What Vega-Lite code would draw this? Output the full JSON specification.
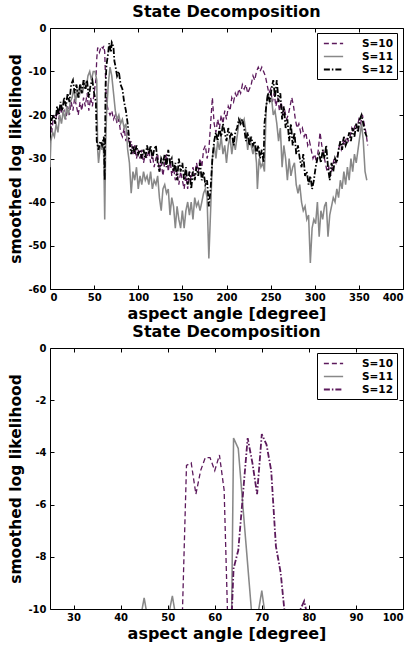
{
  "$schema": "https://vega.github.io/schema/vega-lite/v6.json",
  "autosize": {"type": "pad"},
  "padding": {"left": 8, "top": 3, "right": 0, "bottom": 0},
  "spacing": 59,
  "bounds": "flush",
  "config": {
    "view": {"stroke": "#000", "strokeWidth": 1},
    "axis": {"grid": false, "domain": false, "tickColor": "#000", "tickSize": -4, "labelFont": "DejaVu Sans", "labelFontWeight": "bold", "labelFontSize": 10, "labelColor": "#000", "titleFont": "DejaVu Sans", "titleFontWeight": "bold", "titleFontSize": 16, "titleColor": "#000"},
    "title": {"font": "DejaVu Sans", "fontWeight": "bold", "fontSize": 16, "color": "#000", "offset": 3},
    "legend": {"strokeColor": "#000", "fillColor": "#fff", "padding": 4, "labelFont": "DejaVu Sans", "labelFontWeight": "bold", "labelFontSize": 10.5, "labelColor": "#000", "symbolType": "M-1.75,0H1.75", "symbolSize": 121, "symbolStrokeWidth": 1.3, "symbolOffset": 6, "rowPadding": 1, "labelOffset": 22, "cornerRadius": 0, "labelExpr": "datum.label + '   '"}
  },
  "datasets": {
    "top": [
      {"a":0,"v":-22,"s":"S=10"},{"a":2,"v":-24,"s":"S=10"},{"a":4,"v":-20,"s":"S=10"},{"a":6,"v":-22,"s":"S=10"},{"a":8,"v":-19,"s":"S=10"},{"a":10,"v":-21,"s":"S=10"},{"a":12,"v":-18,"s":"S=10"},{"a":14,"v":-20,"s":"S=10"},{"a":16,"v":-19,"s":"S=10"},{"a":18,"v":-21,"s":"S=10"},{"a":20,"v":-18,"s":"S=10"},{"a":22,"v":-20,"s":"S=10"},{"a":24,"v":-17,"s":"S=10"},{"a":26,"v":-19,"s":"S=10"},{"a":28,"v":-16,"s":"S=10"},{"a":30,"v":-18,"s":"S=10"},{"a":32,"v":-20,"s":"S=10"},{"a":34,"v":-17,"s":"S=10"},{"a":36,"v":-19,"s":"S=10"},{"a":38,"v":-16,"s":"S=10"},{"a":40,"v":-18,"s":"S=10"},{"a":42,"v":-15,"s":"S=10"},{"a":44,"v":-19,"s":"S=10"},{"a":46,"v":-16,"s":"S=10"},{"a":48,"v":-18,"s":"S=10"},{"a":50,"v":-15,"s":"S=10"},{"a":52,"v":-12,"s":"S=10"},{"a":53,"v":-7,"s":"S=10"},{"a":54,"v":-4.5,"s":"S=10"},{"a":56,"v":-5.6,"s":"S=10"},{"a":58,"v":-4.2,"s":"S=10"},{"a":60,"v":-4.7,"s":"S=10"},{"a":61,"v":-4.1,"s":"S=10"},{"a":62,"v":-5.5,"s":"S=10"},{"a":63,"v":-12,"s":"S=10"},{"a":64,"v":-17,"s":"S=10"},{"a":66,"v":-19,"s":"S=10"},{"a":68,"v":-20,"s":"S=10"},{"a":70,"v":-19,"s":"S=10"},{"a":72,"v":-21,"s":"S=10"},{"a":74,"v":-20,"s":"S=10"},{"a":76,"v":-22,"s":"S=10"},{"a":78,"v":-21,"s":"S=10"},{"a":80,"v":-24,"s":"S=10"},{"a":82,"v":-25,"s":"S=10"},{"a":84,"v":-23,"s":"S=10"},{"a":86,"v":-26,"s":"S=10"},{"a":88,"v":-24,"s":"S=10"},{"a":90,"v":-27,"s":"S=10"},{"a":92,"v":-26,"s":"S=10"},{"a":94,"v":-29,"s":"S=10"},{"a":96,"v":-27,"s":"S=10"},{"a":98,"v":-30,"s":"S=10"},{"a":100,"v":-28,"s":"S=10"},{"a":102,"v":-30,"s":"S=10"},{"a":104,"v":-28,"s":"S=10"},{"a":106,"v":-31,"s":"S=10"},{"a":108,"v":-29,"s":"S=10"},{"a":110,"v":-30,"s":"S=10"},{"a":112,"v":-28,"s":"S=10"},{"a":114,"v":-31,"s":"S=10"},{"a":116,"v":-29,"s":"S=10"},{"a":118,"v":-32,"s":"S=10"},{"a":120,"v":-30,"s":"S=10"},{"a":122,"v":-29,"s":"S=10"},{"a":124,"v":-33,"s":"S=10"},{"a":126,"v":-31,"s":"S=10"},{"a":128,"v":-34,"s":"S=10"},{"a":130,"v":-31,"s":"S=10"},{"a":132,"v":-29,"s":"S=10"},{"a":134,"v":-33,"s":"S=10"},{"a":136,"v":-30,"s":"S=10"},{"a":138,"v":-34,"s":"S=10"},{"a":140,"v":-32,"s":"S=10"},{"a":142,"v":-35,"s":"S=10"},{"a":144,"v":-33,"s":"S=10"},{"a":146,"v":-36,"s":"S=10"},{"a":148,"v":-33,"s":"S=10"},{"a":150,"v":-35,"s":"S=10"},{"a":152,"v":-37,"s":"S=10"},{"a":154,"v":-34,"s":"S=10"},{"a":156,"v":-37,"s":"S=10"},{"a":158,"v":-33,"s":"S=10"},{"a":160,"v":-35,"s":"S=10"},{"a":162,"v":-32,"s":"S=10"},{"a":164,"v":-34,"s":"S=10"},{"a":166,"v":-31,"s":"S=10"},{"a":168,"v":-33,"s":"S=10"},{"a":170,"v":-30,"s":"S=10"},{"a":172,"v":-32,"s":"S=10"},{"a":174,"v":-28,"s":"S=10"},{"a":176,"v":-27,"s":"S=10"},{"a":178,"v":-30,"s":"S=10"},{"a":180,"v":-28,"s":"S=10"},{"a":182,"v":-22,"s":"S=10"},{"a":184,"v":-16,"s":"S=10"},{"a":186,"v":-22,"s":"S=10"},{"a":188,"v":-24,"s":"S=10"},{"a":190,"v":-21,"s":"S=10"},{"a":192,"v":-23,"s":"S=10"},{"a":194,"v":-20,"s":"S=10"},{"a":196,"v":-22,"s":"S=10"},{"a":198,"v":-19,"s":"S=10"},{"a":200,"v":-21,"s":"S=10"},{"a":202,"v":-18,"s":"S=10"},{"a":204,"v":-19,"s":"S=10"},{"a":206,"v":-16,"s":"S=10"},{"a":208,"v":-17,"s":"S=10"},{"a":210,"v":-15,"s":"S=10"},{"a":212,"v":-16,"s":"S=10"},{"a":214,"v":-14,"s":"S=10"},{"a":216,"v":-15,"s":"S=10"},{"a":218,"v":-13,"s":"S=10"},{"a":220,"v":-14,"s":"S=10"},{"a":222,"v":-13,"s":"S=10"},{"a":224,"v":-15,"s":"S=10"},{"a":226,"v":-14,"s":"S=10"},{"a":228,"v":-13,"s":"S=10"},{"a":230,"v":-11,"s":"S=10"},{"a":232,"v":-12,"s":"S=10"},{"a":234,"v":-10,"s":"S=10"},{"a":236,"v":-9,"s":"S=10"},{"a":238,"v":-10,"s":"S=10"},{"a":240,"v":-9,"s":"S=10"},{"a":242,"v":-10,"s":"S=10"},{"a":244,"v":-11,"s":"S=10"},{"a":246,"v":-13,"s":"S=10"},{"a":248,"v":-15,"s":"S=10"},{"a":250,"v":-14,"s":"S=10"},{"a":252,"v":-17,"s":"S=10"},{"a":254,"v":-15,"s":"S=10"},{"a":256,"v":-18,"s":"S=10"},{"a":258,"v":-16,"s":"S=10"},{"a":260,"v":-19,"s":"S=10"},{"a":262,"v":-17,"s":"S=10"},{"a":264,"v":-20,"s":"S=10"},{"a":266,"v":-19,"s":"S=10"},{"a":268,"v":-21,"s":"S=10"},{"a":270,"v":-20,"s":"S=10"},{"a":272,"v":-18,"s":"S=10"},{"a":274,"v":-16,"s":"S=10"},{"a":276,"v":-18,"s":"S=10"},{"a":278,"v":-21,"s":"S=10"},{"a":280,"v":-23,"s":"S=10"},{"a":282,"v":-22,"s":"S=10"},{"a":284,"v":-24,"s":"S=10"},{"a":286,"v":-23,"s":"S=10"},{"a":288,"v":-25,"s":"S=10"},{"a":290,"v":-24,"s":"S=10"},{"a":292,"v":-27,"s":"S=10"},{"a":294,"v":-26,"s":"S=10"},{"a":296,"v":-28,"s":"S=10"},{"a":298,"v":-30,"s":"S=10"},{"a":300,"v":-29,"s":"S=10"},{"a":302,"v":-31,"s":"S=10"},{"a":304,"v":-28,"s":"S=10"},{"a":306,"v":-24,"s":"S=10"},{"a":308,"v":-27,"s":"S=10"},{"a":310,"v":-29,"s":"S=10"},{"a":312,"v":-31,"s":"S=10"},{"a":314,"v":-33,"s":"S=10"},{"a":316,"v":-32,"s":"S=10"},{"a":318,"v":-34,"s":"S=10"},{"a":320,"v":-32,"s":"S=10"},{"a":322,"v":-30,"s":"S=10"},{"a":324,"v":-31,"s":"S=10"},{"a":326,"v":-29,"s":"S=10"},{"a":328,"v":-27,"s":"S=10"},{"a":330,"v":-28,"s":"S=10"},{"a":332,"v":-26,"s":"S=10"},{"a":334,"v":-27,"s":"S=10"},{"a":336,"v":-25,"s":"S=10"},{"a":338,"v":-26,"s":"S=10"},{"a":340,"v":-25,"s":"S=10"},{"a":342,"v":-23,"s":"S=10"},{"a":344,"v":-24,"s":"S=10"},{"a":346,"v":-22,"s":"S=10"},{"a":348,"v":-23,"s":"S=10"},{"a":350,"v":-21,"s":"S=10"},{"a":352,"v":-22,"s":"S=10"},{"a":354,"v":-20,"s":"S=10"},{"a":356,"v":-22,"s":"S=10"},{"a":358,"v":-24,"s":"S=10"},{"a":360,"v":-27,"s":"S=10"},

      {"a":0,"v":-32,"s":"S=11"},{"a":1,"v":-26,"s":"S=11"},{"a":3,"v":-24,"s":"S=11"},{"a":5,"v":-25,"s":"S=11"},{"a":7,"v":-22,"s":"S=11"},{"a":9,"v":-24,"s":"S=11"},{"a":11,"v":-20,"s":"S=11"},{"a":13,"v":-22,"s":"S=11"},{"a":15,"v":-19,"s":"S=11"},{"a":17,"v":-21,"s":"S=11"},{"a":19,"v":-18,"s":"S=11"},{"a":21,"v":-20,"s":"S=11"},{"a":23,"v":-17,"s":"S=11"},{"a":25,"v":-16,"s":"S=11"},{"a":27,"v":-14,"s":"S=11"},{"a":29,"v":-17,"s":"S=11"},{"a":31,"v":-14,"s":"S=11"},{"a":33,"v":-16,"s":"S=11"},{"a":35,"v":-13,"s":"S=11"},{"a":37,"v":-15,"s":"S=11"},{"a":39,"v":-12,"s":"S=11"},{"a":41,"v":-14,"s":"S=11"},{"a":43,"v":-11,"s":"S=11"},{"a":45,"v":-10,"s":"S=11"},{"a":47,"v":-12,"s":"S=11"},{"a":49,"v":-10,"s":"S=11"},{"a":51,"v":-10,"s":"S=11"},{"a":53,"v":-12,"s":"S=11"},{"a":54,"v":-28,"s":"S=11"},{"a":55,"v":-31,"s":"S=11"},{"a":57,"v":-27,"s":"S=11"},{"a":59,"v":-28,"s":"S=11"},{"a":60,"v":-26,"s":"S=11"},{"a":61,"v":-30,"s":"S=11"},{"a":62,"v":-44,"s":"S=11"},{"a":63,"v":-28,"s":"S=11"},{"a":64,"v":-20,"s":"S=11"},{"a":66,"v":-13,"s":"S=11"},{"a":68,"v":-9,"s":"S=11"},{"a":70,"v":-11,"s":"S=11"},{"a":72,"v":-15,"s":"S=11"},{"a":74,"v":-19,"s":"S=11"},{"a":76,"v":-21,"s":"S=11"},{"a":78,"v":-20,"s":"S=11"},{"a":80,"v":-22,"s":"S=11"},{"a":82,"v":-21,"s":"S=11"},{"a":84,"v":-23,"s":"S=11"},{"a":86,"v":-22,"s":"S=11"},{"a":88,"v":-28,"s":"S=11"},{"a":90,"v":-31,"s":"S=11"},{"a":92,"v":-38,"s":"S=11"},{"a":94,"v":-33,"s":"S=11"},{"a":96,"v":-35,"s":"S=11"},{"a":98,"v":-32,"s":"S=11"},{"a":100,"v":-37,"s":"S=11"},{"a":102,"v":-34,"s":"S=11"},{"a":104,"v":-36,"s":"S=11"},{"a":106,"v":-33,"s":"S=11"},{"a":108,"v":-35,"s":"S=11"},{"a":110,"v":-34,"s":"S=11"},{"a":112,"v":-36,"s":"S=11"},{"a":114,"v":-33,"s":"S=11"},{"a":116,"v":-37,"s":"S=11"},{"a":118,"v":-35,"s":"S=11"},{"a":120,"v":-36,"s":"S=11"},{"a":122,"v":-34,"s":"S=11"},{"a":124,"v":-39,"s":"S=11"},{"a":126,"v":-42,"s":"S=11"},{"a":128,"v":-37,"s":"S=11"},{"a":130,"v":-36,"s":"S=11"},{"a":132,"v":-38,"s":"S=11"},{"a":134,"v":-37,"s":"S=11"},{"a":136,"v":-43,"s":"S=11"},{"a":138,"v":-39,"s":"S=11"},{"a":140,"v":-41,"s":"S=11"},{"a":142,"v":-46,"s":"S=11"},{"a":144,"v":-41,"s":"S=11"},{"a":146,"v":-44,"s":"S=11"},{"a":148,"v":-46,"s":"S=11"},{"a":150,"v":-42,"s":"S=11"},{"a":152,"v":-46,"s":"S=11"},{"a":154,"v":-42,"s":"S=11"},{"a":156,"v":-40,"s":"S=11"},{"a":158,"v":-43,"s":"S=11"},{"a":160,"v":-40,"s":"S=11"},{"a":162,"v":-44,"s":"S=11"},{"a":164,"v":-39,"s":"S=11"},{"a":166,"v":-41,"s":"S=11"},{"a":168,"v":-40,"s":"S=11"},{"a":170,"v":-42,"s":"S=11"},{"a":172,"v":-40,"s":"S=11"},{"a":174,"v":-38,"s":"S=11"},{"a":176,"v":-37,"s":"S=11"},{"a":178,"v":-39,"s":"S=11"},{"a":180,"v":-53,"s":"S=11"},{"a":182,"v":-42,"s":"S=11"},{"a":184,"v":-30,"s":"S=11"},{"a":186,"v":-27,"s":"S=11"},{"a":188,"v":-30,"s":"S=11"},{"a":190,"v":-26,"s":"S=11"},{"a":192,"v":-28,"s":"S=11"},{"a":194,"v":-25,"s":"S=11"},{"a":196,"v":-29,"s":"S=11"},{"a":198,"v":-27,"s":"S=11"},{"a":200,"v":-31,"s":"S=11"},{"a":202,"v":-27,"s":"S=11"},{"a":204,"v":-25,"s":"S=11"},{"a":206,"v":-29,"s":"S=11"},{"a":208,"v":-26,"s":"S=11"},{"a":210,"v":-28,"s":"S=11"},{"a":212,"v":-25,"s":"S=11"},{"a":214,"v":-22,"s":"S=11"},{"a":216,"v":-21,"s":"S=11"},{"a":218,"v":-22,"s":"S=11"},{"a":220,"v":-21,"s":"S=11"},{"a":222,"v":-24,"s":"S=11"},{"a":224,"v":-28,"s":"S=11"},{"a":226,"v":-25,"s":"S=11"},{"a":228,"v":-27,"s":"S=11"},{"a":230,"v":-29,"s":"S=11"},{"a":232,"v":-27,"s":"S=11"},{"a":234,"v":-31,"s":"S=11"},{"a":235,"v":-37,"s":"S=11"},{"a":237,"v":-30,"s":"S=11"},{"a":239,"v":-32,"s":"S=11"},{"a":241,"v":-31,"s":"S=11"},{"a":243,"v":-33,"s":"S=11"},{"a":245,"v":-18,"s":"S=11"},{"a":247,"v":-15,"s":"S=11"},{"a":249,"v":-17,"s":"S=11"},{"a":251,"v":-16,"s":"S=11"},{"a":253,"v":-20,"s":"S=11"},{"a":255,"v":-19,"s":"S=11"},{"a":257,"v":-22,"s":"S=11"},{"a":259,"v":-26,"s":"S=11"},{"a":261,"v":-23,"s":"S=11"},{"a":263,"v":-32,"s":"S=11"},{"a":265,"v":-27,"s":"S=11"},{"a":267,"v":-30,"s":"S=11"},{"a":269,"v":-35,"s":"S=11"},{"a":271,"v":-30,"s":"S=11"},{"a":273,"v":-34,"s":"S=11"},{"a":275,"v":-32,"s":"S=11"},{"a":277,"v":-31,"s":"S=11"},{"a":279,"v":-36,"s":"S=11"},{"a":281,"v":-38,"s":"S=11"},{"a":283,"v":-36,"s":"S=11"},{"a":285,"v":-40,"s":"S=11"},{"a":287,"v":-42,"s":"S=11"},{"a":289,"v":-41,"s":"S=11"},{"a":291,"v":-44,"s":"S=11"},{"a":293,"v":-43,"s":"S=11"},{"a":295,"v":-54,"s":"S=11"},{"a":297,"v":-46,"s":"S=11"},{"a":299,"v":-44,"s":"S=11"},{"a":301,"v":-45,"s":"S=11"},{"a":303,"v":-40,"s":"S=11"},{"a":305,"v":-48,"s":"S=11"},{"a":307,"v":-42,"s":"S=11"},{"a":309,"v":-44,"s":"S=11"},{"a":311,"v":-41,"s":"S=11"},{"a":313,"v":-40,"s":"S=11"},{"a":315,"v":-48,"s":"S=11"},{"a":317,"v":-43,"s":"S=11"},{"a":319,"v":-41,"s":"S=11"},{"a":321,"v":-39,"s":"S=11"},{"a":323,"v":-40,"s":"S=11"},{"a":325,"v":-37,"s":"S=11"},{"a":327,"v":-39,"s":"S=11"},{"a":329,"v":-35,"s":"S=11"},{"a":331,"v":-37,"s":"S=11"},{"a":333,"v":-33,"s":"S=11"},{"a":335,"v":-36,"s":"S=11"},{"a":337,"v":-32,"s":"S=11"},{"a":339,"v":-35,"s":"S=11"},{"a":341,"v":-30,"s":"S=11"},{"a":343,"v":-33,"s":"S=11"},{"a":345,"v":-29,"s":"S=11"},{"a":347,"v":-31,"s":"S=11"},{"a":349,"v":-28,"s":"S=11"},{"a":351,"v":-25,"s":"S=11"},{"a":353,"v":-22,"s":"S=11"},{"a":355,"v":-26,"s":"S=11"},{"a":357,"v":-33,"s":"S=11"},{"a":359,"v":-35,"s":"S=11"},

      {"a":0,"v":-24,"s":"S=12"},{"a":2,"v":-21,"s":"S=12"},{"a":4,"v":-20,"s":"S=12"},{"a":6,"v":-22,"s":"S=12"},{"a":8,"v":-18,"s":"S=12"},{"a":10,"v":-20,"s":"S=12"},{"a":12,"v":-17,"s":"S=12"},{"a":14,"v":-19,"s":"S=12"},{"a":16,"v":-16,"s":"S=12"},{"a":18,"v":-18,"s":"S=12"},{"a":20,"v":-15,"s":"S=12"},{"a":22,"v":-17,"s":"S=12"},{"a":24,"v":-13,"s":"S=12"},{"a":26,"v":-12,"s":"S=12"},{"a":28,"v":-15,"s":"S=12"},{"a":30,"v":-13,"s":"S=12"},{"a":32,"v":-16,"s":"S=12"},{"a":34,"v":-13,"s":"S=12"},{"a":36,"v":-15,"s":"S=12"},{"a":38,"v":-12,"s":"S=12"},{"a":40,"v":-14,"s":"S=12"},{"a":42,"v":-12,"s":"S=12"},{"a":44,"v":-16,"s":"S=12"},{"a":46,"v":-13,"s":"S=12"},{"a":48,"v":-12,"s":"S=12"},{"a":50,"v":-15,"s":"S=12"},{"a":52,"v":-17,"s":"S=12"},{"a":53,"v":-26,"s":"S=12"},{"a":55,"v":-28,"s":"S=12"},{"a":57,"v":-26,"s":"S=12"},{"a":59,"v":-27,"s":"S=12"},{"a":61,"v":-25,"s":"S=12"},{"a":62,"v":-35,"s":"S=12"},{"a":63,"v":-13,"s":"S=12"},{"a":64,"v":-8.5,"s":"S=12"},{"a":66,"v":-5.6,"s":"S=12"},{"a":67,"v":-3.5,"s":"S=12"},{"a":68,"v":-4.4,"s":"S=12"},{"a":69,"v":-5.6,"s":"S=12"},{"a":70,"v":-3.3,"s":"S=12"},{"a":71,"v":-3.7,"s":"S=12"},{"a":72,"v":-4.7,"s":"S=12"},{"a":73,"v":-7.6,"s":"S=12"},{"a":74,"v":-8.6,"s":"S=12"},{"a":76,"v":-11,"s":"S=12"},{"a":78,"v":-10,"s":"S=12"},{"a":80,"v":-13,"s":"S=12"},{"a":82,"v":-14,"s":"S=12"},{"a":84,"v":-17,"s":"S=12"},{"a":86,"v":-19,"s":"S=12"},{"a":88,"v":-22,"s":"S=12"},{"a":90,"v":-26,"s":"S=12"},{"a":92,"v":-29,"s":"S=12"},{"a":94,"v":-27,"s":"S=12"},{"a":96,"v":-29,"s":"S=12"},{"a":98,"v":-27,"s":"S=12"},{"a":100,"v":-29,"s":"S=12"},{"a":102,"v":-28,"s":"S=12"},{"a":104,"v":-30,"s":"S=12"},{"a":106,"v":-28,"s":"S=12"},{"a":108,"v":-30,"s":"S=12"},{"a":110,"v":-27,"s":"S=12"},{"a":112,"v":-29,"s":"S=12"},{"a":114,"v":-27,"s":"S=12"},{"a":116,"v":-30,"s":"S=12"},{"a":118,"v":-28,"s":"S=12"},{"a":120,"v":-27,"s":"S=12"},{"a":122,"v":-31,"s":"S=12"},{"a":124,"v":-33,"s":"S=12"},{"a":126,"v":-30,"s":"S=12"},{"a":128,"v":-31,"s":"S=12"},{"a":130,"v":-29,"s":"S=12"},{"a":132,"v":-32,"s":"S=12"},{"a":134,"v":-28,"s":"S=12"},{"a":136,"v":-31,"s":"S=12"},{"a":138,"v":-30,"s":"S=12"},{"a":140,"v":-33,"s":"S=12"},{"a":142,"v":-31,"s":"S=12"},{"a":144,"v":-35,"s":"S=12"},{"a":146,"v":-30,"s":"S=12"},{"a":148,"v":-33,"s":"S=12"},{"a":150,"v":-31,"s":"S=12"},{"a":152,"v":-35,"s":"S=12"},{"a":154,"v":-32,"s":"S=12"},{"a":156,"v":-36,"s":"S=12"},{"a":158,"v":-33,"s":"S=12"},{"a":160,"v":-37,"s":"S=12"},{"a":162,"v":-33,"s":"S=12"},{"a":164,"v":-35,"s":"S=12"},{"a":166,"v":-32,"s":"S=12"},{"a":168,"v":-34,"s":"S=12"},{"a":170,"v":-31,"s":"S=12"},{"a":172,"v":-35,"s":"S=12"},{"a":174,"v":-33,"s":"S=12"},{"a":176,"v":-36,"s":"S=12"},{"a":178,"v":-35,"s":"S=12"},{"a":180,"v":-41,"s":"S=12"},{"a":182,"v":-37,"s":"S=12"},{"a":184,"v":-30,"s":"S=12"},{"a":186,"v":-26,"s":"S=12"},{"a":188,"v":-24,"s":"S=12"},{"a":190,"v":-26,"s":"S=12"},{"a":192,"v":-23,"s":"S=12"},{"a":194,"v":-25,"s":"S=12"},{"a":196,"v":-22,"s":"S=12"},{"a":198,"v":-24,"s":"S=12"},{"a":200,"v":-26,"s":"S=12"},{"a":202,"v":-23,"s":"S=12"},{"a":204,"v":-25,"s":"S=12"},{"a":206,"v":-24,"s":"S=12"},{"a":208,"v":-27,"s":"S=12"},{"a":210,"v":-24,"s":"S=12"},{"a":212,"v":-23,"s":"S=12"},{"a":214,"v":-21,"s":"S=12"},{"a":216,"v":-22,"s":"S=12"},{"a":218,"v":-21,"s":"S=12"},{"a":220,"v":-23,"s":"S=12"},{"a":222,"v":-26,"s":"S=12"},{"a":224,"v":-24,"s":"S=12"},{"a":226,"v":-27,"s":"S=12"},{"a":228,"v":-25,"s":"S=12"},{"a":230,"v":-27,"s":"S=12"},{"a":232,"v":-26,"s":"S=12"},{"a":234,"v":-29,"s":"S=12"},{"a":236,"v":-27,"s":"S=12"},{"a":238,"v":-30,"s":"S=12"},{"a":240,"v":-28,"s":"S=12"},{"a":242,"v":-31,"s":"S=12"},{"a":243,"v":-22,"s":"S=12"},{"a":245,"v":-18,"s":"S=12"},{"a":247,"v":-15,"s":"S=12"},{"a":249,"v":-17,"s":"S=12"},{"a":251,"v":-14,"s":"S=12"},{"a":253,"v":-12,"s":"S=12"},{"a":255,"v":-16,"s":"S=12"},{"a":257,"v":-12,"s":"S=12"},{"a":259,"v":-17,"s":"S=12"},{"a":261,"v":-15,"s":"S=12"},{"a":263,"v":-21,"s":"S=12"},{"a":265,"v":-18,"s":"S=12"},{"a":267,"v":-23,"s":"S=12"},{"a":269,"v":-21,"s":"S=12"},{"a":271,"v":-26,"s":"S=12"},{"a":273,"v":-22,"s":"S=12"},{"a":275,"v":-27,"s":"S=12"},{"a":277,"v":-24,"s":"S=12"},{"a":279,"v":-29,"s":"S=12"},{"a":281,"v":-27,"s":"S=12"},{"a":283,"v":-30,"s":"S=12"},{"a":285,"v":-32,"s":"S=12"},{"a":287,"v":-29,"s":"S=12"},{"a":289,"v":-34,"s":"S=12"},{"a":291,"v":-33,"s":"S=12"},{"a":293,"v":-36,"s":"S=12"},{"a":295,"v":-34,"s":"S=12"},{"a":297,"v":-37,"s":"S=12"},{"a":299,"v":-35,"s":"S=12"},{"a":301,"v":-32,"s":"S=12"},{"a":303,"v":-30,"s":"S=12"},{"a":305,"v":-29,"s":"S=12"},{"a":307,"v":-31,"s":"S=12"},{"a":309,"v":-28,"s":"S=12"},{"a":311,"v":-30,"s":"S=12"},{"a":313,"v":-27,"s":"S=12"},{"a":315,"v":-32,"s":"S=12"},{"a":317,"v":-35,"s":"S=12"},{"a":319,"v":-31,"s":"S=12"},{"a":321,"v":-33,"s":"S=12"},{"a":323,"v":-30,"s":"S=12"},{"a":325,"v":-31,"s":"S=12"},{"a":327,"v":-28,"s":"S=12"},{"a":329,"v":-26,"s":"S=12"},{"a":331,"v":-28,"s":"S=12"},{"a":333,"v":-25,"s":"S=12"},{"a":335,"v":-27,"s":"S=12"},{"a":337,"v":-26,"s":"S=12"},{"a":339,"v":-24,"s":"S=12"},{"a":341,"v":-26,"s":"S=12"},{"a":343,"v":-23,"s":"S=12"},{"a":345,"v":-25,"s":"S=12"},{"a":347,"v":-22,"s":"S=12"},{"a":349,"v":-24,"s":"S=12"},{"a":351,"v":-21,"s":"S=12"},{"a":353,"v":-20,"s":"S=12"},{"a":355,"v":-22,"s":"S=12"},{"a":357,"v":-24,"s":"S=12"},{"a":359,"v":-25,"s":"S=12"}
    ],
    "zoom": [
      {"a":25,"v":-18,"s":"S=10"},{"a":30,"v":-17,"s":"S=10"},{"a":35,"v":-16,"s":"S=10"},{"a":40,"v":-17,"s":"S=10"},{"a":45,"v":-16,"s":"S=10"},{"a":50,"v":-15,"s":"S=10"},{"a":52,"v":-13,"s":"S=10"},{"a":53,"v":-11,"s":"S=10"},{"a":54,"v":-4.5,"s":"S=10"},{"a":55,"v":-4.4,"s":"S=10"},{"a":56,"v":-5.6,"s":"S=10"},{"a":57,"v":-4.7,"s":"S=10"},{"a":58,"v":-4.2,"s":"S=10"},{"a":59,"v":-4.2,"s":"S=10"},{"a":60,"v":-4.7,"s":"S=10"},{"a":61,"v":-4.1,"s":"S=10"},{"a":62,"v":-5.45,"s":"S=10"},{"a":63,"v":-12,"s":"S=10"},{"a":64,"v":-17,"s":"S=10"},{"a":66,"v":-19,"s":"S=10"},{"a":70,"v":-19,"s":"S=10"},{"a":75,"v":-21,"s":"S=10"},{"a":80,"v":-24,"s":"S=10"},{"a":90,"v":-27,"s":"S=10"},{"a":100,"v":-28,"s":"S=10"},
      {"a":25,"v":-20,"s":"S=11"},{"a":30,"v":-14,"s":"S=11"},{"a":35,"v":-13,"s":"S=11"},{"a":40,"v":-12,"s":"S=11"},{"a":43,"v":-11,"s":"S=11"},{"a":44,"v":-10.6,"s":"S=11"},{"a":45,"v":-9.57,"s":"S=11"},{"a":46,"v":-10.6,"s":"S=11"},{"a":48,"v":-10.5,"s":"S=11"},{"a":50,"v":-10.4,"s":"S=11"},{"a":51,"v":-9.5,"s":"S=11"},{"a":52,"v":-10.6,"s":"S=11"},{"a":53,"v":-12,"s":"S=11"},{"a":54,"v":-28,"s":"S=11"},{"a":60,"v":-26,"s":"S=11"},{"a":62,"v":-40,"s":"S=11"},{"a":63,"v":-20,"s":"S=11"},{"a":64,"v":-3.45,"s":"S=11"},{"a":65,"v":-3.85,"s":"S=11"},{"a":66,"v":-6.1,"s":"S=11"},{"a":67,"v":-8.3,"s":"S=11"},{"a":68,"v":-10.5,"s":"S=11"},{"a":69,"v":-10.4,"s":"S=11"},{"a":70,"v":-9.3,"s":"S=11"},{"a":71,"v":-10.6,"s":"S=11"},{"a":72,"v":-15,"s":"S=11"},{"a":75,"v":-20,"s":"S=11"},{"a":80,"v":-22,"s":"S=11"},{"a":90,"v":-31,"s":"S=11"},{"a":100,"v":-37,"s":"S=11"},
      {"a":25,"v":-19,"s":"S=12"},{"a":30,"v":-14,"s":"S=12"},{"a":35,"v":-13,"s":"S=12"},{"a":40,"v":-14,"s":"S=12"},{"a":45,"v":-13,"s":"S=12"},{"a":50,"v":-15,"s":"S=12"},{"a":52,"v":-17,"s":"S=12"},{"a":53,"v":-26,"s":"S=12"},{"a":62,"v":-35,"s":"S=12"},{"a":63,"v":-13,"s":"S=12"},{"a":64,"v":-8.45,"s":"S=12"},{"a":65,"v":-7.75,"s":"S=12"},{"a":66,"v":-5.6,"s":"S=12"},{"a":67,"v":-3.45,"s":"S=12"},{"a":68,"v":-4.4,"s":"S=12"},{"a":69,"v":-5.6,"s":"S=12"},{"a":70,"v":-3.3,"s":"S=12"},{"a":71,"v":-3.7,"s":"S=12"},{"a":72,"v":-4.7,"s":"S=12"},{"a":73,"v":-7.6,"s":"S=12"},{"a":74,"v":-8.6,"s":"S=12"},{"a":75,"v":-10.4,"s":"S=12"},{"a":76,"v":-11,"s":"S=12"},{"a":77,"v":-11.5,"s":"S=12"},{"a":78,"v":-10.1,"s":"S=12"},{"a":79,"v":-9.7,"s":"S=12"},{"a":80,"v":-10.5,"s":"S=12"},{"a":82,"v":-14,"s":"S=12"},{"a":85,"v":-18,"s":"S=12"},{"a":90,"v":-26,"s":"S=12"},{"a":100,"v":-29,"s":"S=12"}
    ]
  },
  "vconcat": [
    {
      "width": 353, "height": 261,
      "title": {"text": "State Decomposition"},
      "data": {"name": "top"},
      "layer": [
        {
          "mark": {"type": "line", "clip": true},
          "encoding": {
            "x": {"field": "a", "type": "quantitative", "scale": {"domain": [0, 400], "nice": false, "zero": false},
                  "axis": {"values": [0, 50, 100, 150, 200, 250, 300, 350, 400], "title": "aspect angle [degree]", "labelPadding": 7, "titlePadding": 3, "labelExpr": "'' + datum.value"}},
            "y": {"field": "v", "type": "quantitative", "scale": {"domain": [-60, 0], "nice": false, "zero": false},
                  "axis": {"values": [-60, -50, -40, -30, -20, -10, 0], "title": "smoothed log likelihood", "titleFontSize": 15.5, "labelPadding": 8, "titlePadding": 4, "labelExpr": "'' + datum.value"}},
            "color": {"field": "s", "type": "nominal", "scale": {"domain": ["S=10", "S=11", "S=12"], "range": ["#5c1a5c", "#888888", "#000000"]},
                      "legend": {"orient": "none", "legendX": 267, "legendY": 5, "title": null}},
            "strokeDash": {"field": "s", "type": "nominal", "scale": {"domain": ["S=10", "S=11", "S=12"], "range": [[5, 3], [1, 0], [6, 2, 1.5, 2]]},
                      "legend": {"orient": "none", "legendX": 267, "legendY": 5, "title": null}},
            "strokeWidth": {"field": "s", "type": "nominal", "scale": {"domain": ["S=10", "S=11", "S=12"], "range": [1.3, 1.8, 1.2]}, "legend": null}
          }
        },
        {
          "mark": {"type": "line", "strokeOpacity": 0},
          "encoding": {
            "x": {"field": "a", "type": "quantitative", "axis": {"orient": "top", "labels": false, "title": null, "values": [0, 50, 100, 150, 200, 250, 300, 350, 400]}},
            "y": {"field": "v", "type": "quantitative", "axis": {"orient": "right", "labels": false, "title": null, "values": [-60, -50, -40, -30, -20, -10, 0]}}
          }
        }
      ],
      "resolve": {"axis": {"x": "independent", "y": "independent"}}
    },
    {
      "width": 353, "height": 261,
      "title": {"text": "State Decomposition"},
      "data": {"name": "zoom"},
      "layer": [
        {
          "mark": {"type": "line", "clip": true},
          "encoding": {
            "x": {"field": "a", "type": "quantitative", "scale": {"domain": [25, 100], "nice": false, "zero": false},
                  "axis": {"values": [30, 40, 50, 60, 70, 80, 90, 100], "title": "aspect angle [degree]", "labelPadding": 7, "titlePadding": 3, "labelExpr": "'' + datum.value"}},
            "y": {"field": "v", "type": "quantitative", "scale": {"domain": [-10, 0], "nice": false, "zero": false},
                  "axis": {"values": [-10, -8, -6, -4, -2, 0], "title": "smoothed log likelihood", "titleFontSize": 15.5, "labelPadding": 8, "titlePadding": 4, "labelExpr": "'' + datum.value"}},
            "color": {"field": "s", "type": "nominal", "scale": {"domain": ["S=10", "S=11", "S=12"], "range": ["#5c1a5c", "#888888", "#5c1a5c"]},
                      "legend": {"orient": "none", "legendX": 267, "legendY": 5, "title": null}},
            "strokeDash": {"field": "s", "type": "nominal", "scale": {"domain": ["S=10", "S=11", "S=12"], "range": [[5, 3], [1, 0], [6, 2, 1.5, 2]]},
                      "legend": {"orient": "none", "legendX": 267, "legendY": 5, "title": null}},
            "strokeWidth": {"field": "s", "type": "nominal", "scale": {"domain": ["S=10", "S=11", "S=12"], "range": [1.3, 1.8, 1.3]}, "legend": null}
          }
        },
        {
          "mark": {"type": "line", "strokeOpacity": 0},
          "encoding": {
            "x": {"field": "a", "type": "quantitative", "axis": {"orient": "top", "labels": false, "title": null, "values": [30, 40, 50, 60, 70, 80, 90, 100]}},
            "y": {"field": "v", "type": "quantitative", "axis": {"orient": "right", "labels": false, "title": null, "values": [-10, -8, -6, -4, -2, 0]}}
          }
        }
      ],
      "resolve": {"axis": {"x": "independent", "y": "independent"}}
    }
  ],
  "resolve": {"scale": {"color": "independent", "strokeDash": "independent", "strokeWidth": "independent"}, "legend": {"color": "independent", "strokeDash": "independent"}}
}
